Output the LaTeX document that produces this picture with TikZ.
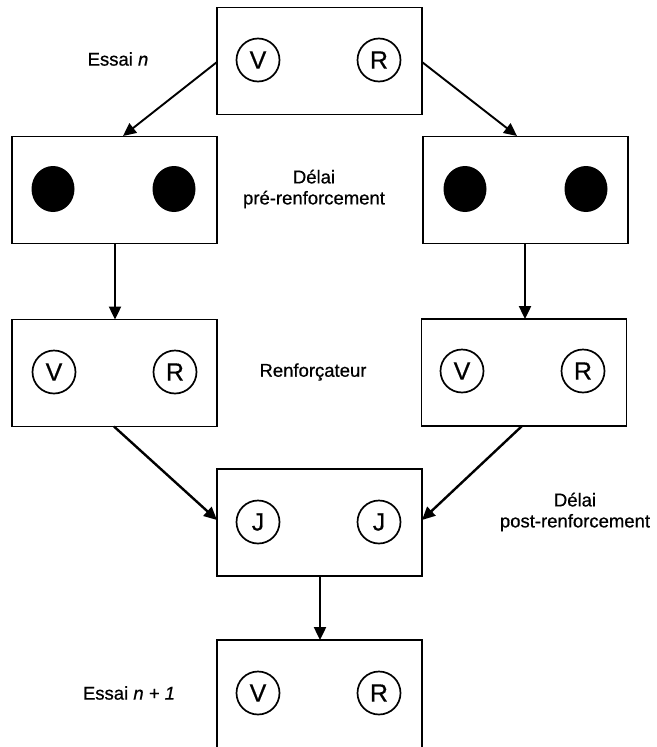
\documentclass[tikz,border=0pt]{standalone}
\usepackage{fontspec}
\setmainfont{Liberation Sans}
\newfontfamily\medfont[FakeBold=0.6]{Liberation Sans}
\usetikzlibrary{arrows.meta,shapes.geometric}
\begin{document}
\begin{tikzpicture}[x=1pt,y=-1pt,
  box/.style={draw,line width=1.7pt,minimum width=205pt,minimum height=107pt,inner sep=0pt},
  ring/.style={draw,circle,line width=1.7pt,minimum size=43pt,inner sep=0pt,font=\medfont\fontsize{25}{27}\selectfont},
  dot/.style={fill,ellipse,minimum width=43pt,minimum height=46pt,inner sep=0pt},
  lbl/.style={align=center,font=\medfont\fontsize{18.5}{21}\selectfont,inner sep=0pt},
  arr/.style={line width=2.4pt,-{Triangle[length=13pt,width=12pt]}}]
\useasboundingbox (0,0) rectangle (656,747);
\fill[white] (0,0) rectangle (656,747);
% boxes
\node[box] (T) at (319.5,61) {};
\node[box] (L2) at (114.5,190) {};
\node[box] (R2) at (525.5,190) {};
\node[box] (L3) at (114.5,373) {};
\node[box] (R3) at (524,372.5) {};
\node[box] (J) at (319.5,522.5) {};
\begin{scope}
\clip (0,0) rectangle (656,747);
\node[box,minimum height=130pt] (B) at (319.5,705) {};
\end{scope}
% circles
\node[ring] (TV) at (258,60) {V};
\node[ring] (TR) at (379,60) {R};
\node[dot] (L2a) at (53,189) {};
\node[dot] (L2b) at (174,189) {};
\node[dot] (R2a) at (465,189) {};
\node[dot] (R2b) at (586,189) {};
\node[ring] (L3V) at (54,372) {V};
\node[ring] (L3R) at (175,372) {R};
\node[ring] (R3V) at (462,371) {V};
\node[ring] (R3R) at (583,371) {R};
\node[ring] (JJa) at (258,522) {J};
\node[ring] (JJb) at (379,522) {J};
\node[ring] (BV) at (258,693) {V};
\node[ring] (BR) at (379,693) {R};
% connector end points
\coordinate (a1) at (217,62);
\coordinate (a2) at (123,136);
\coordinate (b1) at (422,62);
\coordinate (b2) at (517,136);
\coordinate (c1) at (115,244);
\coordinate (c2) at (115,319.5);
\coordinate (d1) at (525,244);
\coordinate (d2) at (525,319);
\coordinate (e1) at (114,426.5);
\coordinate (e2) at (217,520);
\coordinate (f1) at (522,426);
\coordinate (f2) at (422,520);
\coordinate (g1) at (320,576);
\coordinate (g2) at (320,640);
\draw[arr,line width=1.9pt] (a1) -- (a2);
\draw[arr,line width=1.9pt] (b1) -- (b2);
\draw[arr] (c1) -- (c2);
\draw[arr] (d1) -- (d2);
\draw[arr] (e1) -- (e2);
\draw[arr] (f1) -- (f2);
\draw[arr] (g1) -- (g2);
% labels
\node[lbl] (t1) at (118,59) {Essai \textit{n}};
\node[lbl] (t2) at (314,189) {Délai\\pré-renforcement};
\node[lbl] (t3) at (313,372) {Renforçateur};
\node[lbl] (t4) at (575,512) {Délai\\post-renforcement};
\node[lbl] (t5) at (129,693) {Essai \textit{n + 1}};
\end{tikzpicture}
\end{document}
